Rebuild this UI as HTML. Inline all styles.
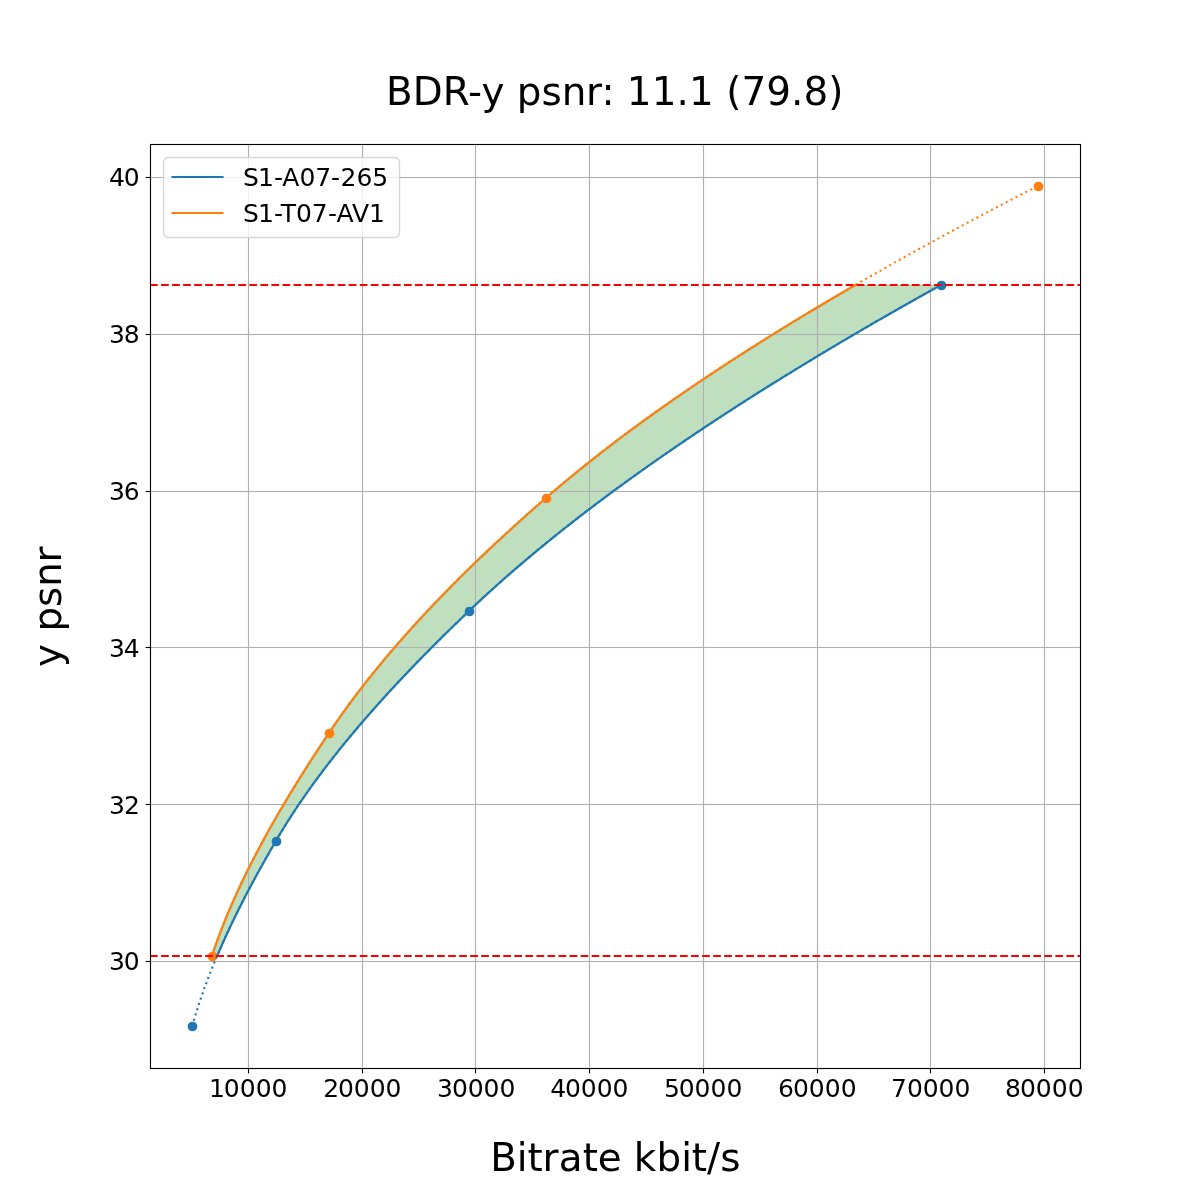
<!DOCTYPE html>
<html lang="en"><head><meta charset="utf-8"><title>BDR-y psnr</title>
<style>html,body{margin:0;padding:0;background:#fff}svg{display:block}text{font-family:"DejaVu Sans", "Liberation Sans", sans-serif;fill:#000;white-space:pre}</style></head><body>
<svg width="1200" height="1200" viewBox="0 0 1200 1200">
<rect width="1200" height="1200" fill="#fff"/>
<defs><clipPath id="ax"><rect x="150" y="144" width="930" height="924"/></clipPath></defs>
<g clip-path="url(#ax)">
<path transform="translate(0.5 0.5)" d="M217.27 955.50 L218.71 952.13 L220.17 948.76 L221.65 945.39 L223.15 942.02 L224.67 938.65 L226.21 935.28 L227.77 931.91 L229.34 928.54 L230.94 925.17 L232.55 921.80 L234.18 918.43 L235.83 915.06 L237.49 911.69 L239.17 908.32 L240.87 904.95 L242.58 901.58 L244.31 898.21 L246.05 894.84 L247.81 891.47 L249.59 888.10 L251.38 884.73 L253.18 881.36 L255.00 877.99 L256.83 874.62 L258.67 871.25 L260.53 867.88 L262.40 864.51 L264.28 861.14 L266.18 857.77 L268.09 854.40 L270.00 851.03 L271.94 847.66 L273.88 844.29 L275.83 840.93 L277.80 837.56 L279.80 834.19 L281.84 830.82 L283.90 827.45 L285.99 824.08 L288.12 820.71 L290.27 817.34 L292.45 813.97 L294.66 810.60 L296.90 807.23 L299.16 803.86 L301.46 800.49 L303.78 797.12 L306.13 793.75 L308.51 790.38 L310.92 787.01 L313.35 783.64 L315.81 780.27 L318.30 776.90 L320.81 773.53 L323.35 770.16 L325.91 766.79 L328.50 763.42 L331.12 760.05 L333.76 756.68 L336.43 753.31 L339.12 749.94 L341.83 746.57 L344.57 743.20 L347.34 739.83 L350.13 736.46 L352.94 733.09 L355.78 729.72 L358.64 726.35 L361.52 722.98 L364.42 719.61 L367.35 716.24 L370.30 712.87 L373.27 709.50 L376.27 706.13 L379.28 702.76 L382.32 699.39 L385.38 696.02 L388.46 692.65 L391.56 689.28 L394.68 685.91 L397.82 682.54 L400.98 679.17 L404.16 675.80 L407.36 672.43 L410.58 669.06 L413.82 665.69 L417.08 662.32 L420.36 658.95 L423.66 655.58 L426.97 652.21 L430.30 648.84 L433.65 645.47 L437.02 642.10 L440.41 638.73 L443.81 635.36 L447.23 631.99 L450.66 628.62 L454.12 625.25 L457.59 621.88 L461.07 618.52 L464.57 615.15 L468.09 611.78 L471.63 608.41 L475.19 605.04 L478.79 601.67 L482.42 598.30 L486.08 594.93 L489.77 591.56 L493.49 588.19 L497.24 584.82 L501.02 581.45 L504.83 578.08 L508.68 574.71 L512.55 571.34 L516.45 567.97 L520.38 564.60 L524.34 561.23 L528.33 557.86 L532.35 554.49 L536.40 551.12 L540.48 547.75 L544.58 544.38 L548.72 541.01 L552.89 537.64 L557.08 534.27 L561.30 530.90 L565.56 527.53 L569.84 524.16 L574.15 520.79 L578.48 517.42 L582.85 514.05 L587.24 510.68 L591.67 507.31 L596.12 503.94 L600.59 500.57 L605.10 497.20 L609.64 493.83 L614.20 490.46 L618.79 487.09 L623.40 483.72 L628.05 480.35 L632.72 476.98 L637.42 473.61 L642.14 470.24 L646.90 466.87 L651.67 463.50 L656.48 460.13 L661.31 456.76 L666.17 453.39 L671.06 450.02 L675.97 446.65 L680.91 443.28 L685.88 439.91 L690.87 436.54 L695.89 433.17 L700.93 429.80 L706.00 426.43 L711.09 423.06 L716.22 419.69 L721.36 416.32 L726.53 412.95 L731.73 409.58 L736.95 406.21 L742.20 402.84 L747.47 399.47 L752.77 396.11 L758.09 392.74 L763.44 389.37 L768.81 386.00 L774.21 382.63 L779.63 379.26 L785.08 375.89 L790.55 372.52 L796.04 369.15 L801.56 365.78 L807.10 362.41 L812.67 359.04 L818.26 355.67 L823.87 352.30 L829.51 348.93 L835.17 345.56 L840.86 342.19 L846.57 338.82 L852.30 335.45 L858.05 332.08 L863.83 328.71 L869.63 325.34 L875.45 321.97 L881.30 318.60 L887.17 315.23 L893.06 311.86 L898.98 308.49 L904.91 305.12 L910.87 301.75 L916.85 298.38 L922.86 295.01 L928.88 291.64 L934.93 288.27 L941.00 284.90 L855.47 284.90 L849.65 288.27 L843.86 291.64 L838.09 295.01 L832.35 298.38 L826.64 301.75 L820.96 305.12 L815.30 308.49 L809.68 311.86 L804.08 315.23 L798.51 318.60 L792.96 321.97 L787.45 325.34 L781.96 328.71 L776.50 332.08 L771.08 335.45 L765.68 338.82 L760.30 342.19 L754.96 345.56 L749.65 348.93 L744.37 352.30 L739.11 355.67 L733.89 359.04 L728.69 362.41 L723.53 365.78 L718.39 369.15 L713.29 372.52 L708.21 375.89 L703.17 379.26 L698.16 382.63 L693.17 386.00 L688.22 389.37 L683.30 392.74 L678.41 396.11 L673.55 399.47 L668.72 402.84 L663.92 406.21 L659.16 409.58 L654.43 412.95 L649.72 416.32 L645.05 419.69 L640.41 423.06 L635.81 426.43 L631.23 429.80 L626.69 433.17 L622.18 436.54 L617.71 439.91 L613.26 443.28 L608.85 446.65 L604.48 450.02 L600.13 453.39 L595.82 456.76 L591.54 460.13 L587.30 463.50 L583.09 466.87 L578.91 470.24 L574.77 473.61 L570.66 476.98 L566.58 480.35 L562.54 483.72 L558.53 487.09 L554.56 490.46 L550.62 493.83 L546.72 497.20 L542.85 500.57 L539.00 503.94 L535.16 507.31 L531.35 510.68 L527.56 514.05 L523.78 517.42 L520.03 520.79 L516.29 524.16 L512.58 527.53 L508.89 530.90 L505.21 534.27 L501.56 537.64 L497.93 541.01 L494.32 544.38 L490.73 547.75 L487.16 551.12 L483.61 554.49 L480.08 557.86 L476.58 561.23 L473.09 564.60 L469.63 567.97 L466.19 571.34 L462.77 574.71 L459.37 578.08 L456.00 581.45 L452.64 584.82 L449.31 588.19 L446.00 591.56 L442.72 594.93 L439.45 598.30 L436.21 601.67 L432.99 605.04 L429.80 608.41 L426.63 611.78 L423.48 615.15 L420.35 618.52 L417.25 621.88 L414.17 625.25 L411.12 628.62 L408.09 631.99 L405.08 635.36 L402.10 638.73 L399.14 642.10 L396.21 645.47 L393.30 648.84 L390.41 652.21 L387.55 655.58 L384.71 658.95 L381.90 662.32 L379.11 665.69 L376.35 669.06 L373.62 672.43 L370.91 675.80 L368.22 679.17 L365.56 682.54 L362.93 685.91 L360.32 689.28 L357.74 692.65 L355.18 696.02 L352.65 699.39 L350.14 702.76 L347.67 706.13 L345.22 709.50 L342.79 712.87 L340.39 716.24 L338.02 719.61 L335.68 722.98 L333.36 726.35 L331.07 729.72 L328.81 733.09 L326.56 736.46 L324.33 739.83 L322.10 743.20 L319.88 746.57 L317.68 749.94 L315.48 753.31 L313.30 756.68 L311.12 760.05 L308.96 763.42 L306.81 766.79 L304.67 770.16 L302.55 773.53 L300.43 776.90 L298.33 780.27 L296.24 783.64 L294.16 787.01 L292.10 790.38 L290.05 793.75 L288.01 797.12 L285.99 800.49 L283.98 803.86 L281.98 807.23 L280.00 810.60 L278.04 813.97 L276.09 817.34 L274.15 820.71 L272.24 824.08 L270.33 827.45 L268.44 830.82 L266.57 834.19 L264.72 837.56 L262.88 840.93 L261.06 844.29 L259.26 847.66 L257.47 851.03 L255.70 854.40 L253.95 857.77 L252.22 861.14 L250.50 864.51 L248.80 867.88 L247.13 871.25 L245.47 874.62 L243.83 877.99 L242.21 881.36 L240.61 884.73 L239.03 888.10 L237.47 891.47 L235.93 894.84 L234.42 898.21 L232.92 901.58 L231.44 904.95 L229.99 908.32 L228.55 911.69 L227.14 915.06 L225.75 918.43 L224.39 921.80 L223.04 925.17 L221.72 928.54 L220.42 931.91 L219.15 935.28 L217.90 938.65 L216.67 942.02 L215.47 945.39 L214.29 948.76 L213.13 952.13 L212.00 955.50Z" fill="#008000" fill-opacity="0.25" stroke="#008000" stroke-opacity="0.25" stroke-width="1.389" stroke-linejoin="miter"/>
<rect x="247.945" y="144" width="1.111" height="924" fill="#b0b0b0"/>
<rect x="361.945" y="144" width="1.111" height="924" fill="#b0b0b0"/>
<rect x="474.945" y="144" width="1.111" height="924" fill="#b0b0b0"/>
<rect x="588.944" y="144" width="1.111" height="924" fill="#b0b0b0"/>
<rect x="702.944" y="144" width="1.111" height="924" fill="#b0b0b0"/>
<rect x="816.944" y="144" width="1.111" height="924" fill="#b0b0b0"/>
<rect x="929.944" y="144" width="1.111" height="924" fill="#b0b0b0"/>
<rect x="1043.945" y="144" width="1.111" height="924" fill="#b0b0b0"/>
<rect x="150" y="960.944" width="930" height="1.111" fill="#b0b0b0"/>
<rect x="150" y="803.944" width="930" height="1.111" fill="#b0b0b0"/>
<rect x="150" y="646.944" width="930" height="1.111" fill="#b0b0b0"/>
<rect x="150" y="490.945" width="930" height="1.111" fill="#b0b0b0"/>
<rect x="150" y="333.945" width="930" height="1.111" fill="#b0b0b0"/>
<rect x="150" y="176.945" width="930" height="1.111" fill="#b0b0b0"/>
<path d="M212.00 955.50 L213.30 951.63 L214.63 947.77 L216.00 943.90 L217.39 940.03 L218.82 936.17 L220.28 932.30 L221.76 928.43 L223.28 924.57 L224.83 920.70 L226.41 916.83 L228.02 912.96 L229.66 909.10 L231.32 905.23 L233.01 901.36 L234.74 897.50 L236.48 893.63 L238.26 889.76 L240.06 885.90 L241.89 882.03 L243.75 878.16 L245.63 874.30 L247.54 870.43 L249.47 866.56 L251.42 862.70 L253.40 858.83 L255.41 854.96 L257.44 851.10 L259.49 847.23 L261.56 843.36 L263.66 839.49 L265.78 835.63 L267.92 831.76 L270.08 827.89 L272.26 824.03 L274.47 820.16 L276.69 816.29 L278.94 812.43 L281.20 808.56 L283.48 804.69 L285.78 800.83 L288.11 796.96 L290.44 793.09 L292.80 789.23 L295.18 785.36 L297.57 781.49 L299.98 777.63 L302.40 773.76 L304.84 769.89 L307.30 766.03 L309.77 762.16 L312.26 758.29 L314.76 754.42 L317.27 750.56 L319.80 746.69 L322.35 742.82 L324.90 738.96 L327.47 735.09 L330.06 731.22 L332.67 727.36 L335.33 723.49 L338.01 719.62 L340.74 715.76 L343.49 711.89 L346.29 708.02 L349.12 704.16 L351.98 700.29 L354.88 696.42 L357.81 692.56 L360.78 688.69 L363.78 684.82 L366.81 680.95 L369.88 677.09 L372.98 673.22 L376.12 669.35 L379.28 665.49 L382.49 661.62 L385.72 657.75 L388.99 653.89 L392.29 650.02 L395.62 646.15 L398.98 642.29 L402.38 638.42 L405.80 634.55 L409.26 630.69 L412.75 626.82 L416.27 622.95 L419.83 619.09 L423.41 615.22 L427.03 611.35 L430.67 607.48 L434.35 603.62 L438.05 599.75 L441.79 595.88 L445.55 592.02 L449.35 588.15 L453.17 584.28 L457.02 580.42 L460.91 576.55 L464.82 572.68 L468.76 568.82 L472.73 564.95 L476.73 561.08 L480.75 557.22 L484.81 553.35 L488.89 549.48 L493.00 545.62 L497.13 541.75 L501.30 537.88 L505.49 534.02 L509.71 530.15 L513.95 526.28 L518.22 522.41 L522.52 518.55 L526.85 514.68 L531.20 510.81 L535.57 506.95 L539.98 503.08 L544.41 499.21 L548.86 495.35 L553.37 491.48 L557.92 487.61 L562.51 483.75 L567.15 479.88 L571.83 476.01 L576.56 472.15 L581.34 468.28 L586.16 464.41 L591.02 460.55 L595.93 456.68 L600.88 452.81 L605.87 448.94 L610.91 445.08 L615.99 441.21 L621.12 437.34 L626.29 433.48 L631.50 429.61 L636.75 425.74 L642.04 421.88 L647.38 418.01 L652.76 414.14 L658.18 410.28 L663.65 406.41 L669.15 402.54 L674.70 398.68 L680.29 394.81 L685.91 390.94 L691.58 387.08 L697.29 383.21 L703.04 379.34 L708.83 375.47 L714.66 371.61 L720.53 367.74 L726.44 363.87 L732.39 360.01 L738.38 356.14 L744.40 352.27 L750.47 348.41 L756.57 344.54 L762.71 340.67 L768.90 336.81 L775.11 332.94 L781.37 329.07 L787.66 325.21 L794.00 321.34 L800.36 317.47 L806.77 313.61 L813.21 309.74 L819.69 305.87 L826.21 302.01 L832.76 298.14 L839.35 294.27 L845.97 290.40 L852.64 286.54 L859.33 282.67 L866.06 278.80 L872.83 274.94 L879.63 271.07 L886.47 267.20 L893.34 263.34 L900.24 259.47 L907.18 255.60 L914.15 251.74 L921.16 247.87 L928.20 244.00 L935.28 240.14 L942.39 236.27 L949.53 232.40 L956.70 228.54 L963.91 224.67 L971.15 220.80 L978.42 216.93 L985.72 213.07 L993.06 209.20 L1000.42 205.33 L1007.82 201.47 L1015.25 197.60 L1022.71 193.73 L1030.20 189.87 L1037.73 186.00" fill="none" stroke="#ff7f0e" stroke-width="2.083" stroke-dasharray="2.083 3.4375" stroke-linejoin="round"/>
<circle cx="212.5" cy="956.5" r="4.86" fill="#ff7f0e"/>
<circle cx="329.5" cy="733.5" r="4.86" fill="#ff7f0e"/>
<circle cx="546.5" cy="498.5" r="4.86" fill="#ff7f0e"/>
<circle cx="1038.5" cy="186.5" r="4.86" fill="#ff7f0e"/>
<path d="M192.27 1026.00 L193.33 1022.28 L194.41 1018.55 L195.53 1014.83 L196.67 1011.10 L197.85 1007.38 L199.06 1003.66 L200.30 999.93 L201.57 996.21 L202.87 992.48 L204.20 988.76 L205.55 985.03 L206.94 981.31 L208.35 977.59 L209.79 973.86 L211.25 970.14 L212.75 966.41 L214.26 962.69 L215.81 958.97 L217.38 955.24 L218.97 951.52 L220.59 947.79 L222.24 944.07 L223.91 940.35 L225.60 936.62 L227.31 932.90 L229.05 929.17 L230.81 925.45 L232.59 921.72 L234.39 918.00 L236.21 914.28 L238.06 910.55 L239.92 906.83 L241.80 903.10 L243.71 899.38 L245.63 895.66 L247.57 891.93 L249.53 888.21 L251.51 884.48 L253.50 880.76 L255.52 877.04 L257.54 873.31 L259.59 869.59 L261.65 865.86 L263.73 862.14 L265.82 858.41 L267.92 854.69 L270.04 850.97 L272.18 847.24 L274.33 843.52 L276.49 839.79 L278.68 836.07 L280.91 832.35 L283.18 828.62 L285.48 824.90 L287.82 821.17 L290.19 817.45 L292.61 813.73 L295.05 810.00 L297.53 806.28 L300.05 802.55 L302.60 798.83 L305.18 795.10 L307.80 791.38 L310.45 787.66 L313.14 783.93 L315.85 780.21 L318.60 776.48 L321.38 772.76 L324.20 769.04 L327.04 765.31 L329.92 761.59 L332.83 757.86 L335.77 754.14 L338.74 750.42 L341.74 746.69 L344.77 742.97 L347.82 739.24 L350.91 735.52 L354.03 731.79 L357.17 728.07 L360.35 724.35 L363.55 720.62 L366.78 716.90 L370.03 713.17 L373.32 709.45 L376.63 705.73 L379.96 702.00 L383.33 698.28 L386.72 694.55 L390.13 690.83 L393.57 687.11 L397.04 683.38 L400.53 679.66 L404.04 675.93 L407.58 672.21 L411.14 668.48 L414.72 664.76 L418.33 661.04 L421.96 657.31 L425.62 653.59 L429.29 649.86 L432.99 646.14 L436.71 642.42 L440.45 638.69 L444.21 634.97 L447.99 631.24 L451.80 627.52 L455.62 623.79 L459.46 620.07 L463.32 616.35 L467.20 612.62 L471.11 608.90 L475.05 605.17 L479.02 601.45 L483.04 597.73 L487.09 594.00 L491.18 590.28 L495.30 586.55 L499.47 582.83 L503.67 579.11 L507.90 575.38 L512.18 571.66 L516.49 567.93 L520.83 564.21 L525.22 560.48 L529.63 556.76 L534.09 553.04 L538.58 549.31 L543.11 545.59 L547.67 541.86 L552.26 538.14 L556.90 534.42 L561.56 530.69 L566.27 526.97 L571.00 523.24 L575.78 519.52 L580.58 515.80 L585.43 512.07 L590.30 508.35 L595.21 504.62 L600.16 500.90 L605.14 497.17 L610.15 493.45 L615.19 489.73 L620.27 486.00 L625.39 482.28 L630.53 478.55 L635.71 474.83 L640.93 471.11 L646.17 467.38 L651.45 463.66 L656.77 459.93 L662.11 456.21 L667.49 452.49 L672.90 448.76 L678.34 445.04 L683.81 441.31 L689.32 437.59 L694.85 433.86 L700.42 430.14 L706.03 426.42 L711.66 422.69 L717.32 418.97 L723.02 415.24 L728.74 411.52 L734.50 407.80 L740.29 404.07 L746.11 400.35 L751.95 396.62 L757.83 392.90 L763.74 389.18 L769.68 385.45 L775.65 381.73 L781.65 378.00 L787.68 374.28 L793.74 370.55 L799.83 366.83 L805.95 363.11 L812.10 359.38 L818.27 355.66 L824.48 351.93 L830.71 348.21 L836.98 344.49 L843.27 340.76 L849.59 337.04 L855.94 333.31 L862.32 329.59 L868.72 325.87 L875.15 322.14 L881.62 318.42 L888.10 314.69 L894.62 310.97 L901.16 307.24 L907.74 303.52 L914.33 299.80 L920.96 296.07 L927.61 292.35 L934.29 288.62 L941.00 284.90" fill="none" stroke="#1f77b4" stroke-width="2.083" stroke-dasharray="2.083 3.4375" stroke-linejoin="round"/>
<circle cx="192.5" cy="1026.5" r="4.86" fill="#1f77b4"/>
<circle cx="276.5" cy="841.5" r="4.86" fill="#1f77b4"/>
<circle cx="469.5" cy="611.5" r="4.86" fill="#1f77b4"/>
<circle cx="941.5" cy="285.5" r="4.86" fill="#1f77b4"/>
<path d="M217.27 955.50 L218.71 952.13 L220.17 948.76 L221.65 945.39 L223.15 942.02 L224.67 938.65 L226.21 935.28 L227.77 931.91 L229.34 928.54 L230.94 925.17 L232.55 921.80 L234.18 918.43 L235.83 915.06 L237.49 911.69 L239.17 908.32 L240.87 904.95 L242.58 901.58 L244.31 898.21 L246.05 894.84 L247.81 891.47 L249.59 888.10 L251.38 884.73 L253.18 881.36 L255.00 877.99 L256.83 874.62 L258.67 871.25 L260.53 867.88 L262.40 864.51 L264.28 861.14 L266.18 857.77 L268.09 854.40 L270.00 851.03 L271.94 847.66 L273.88 844.29 L275.83 840.93 L277.80 837.56 L279.80 834.19 L281.84 830.82 L283.90 827.45 L285.99 824.08 L288.12 820.71 L290.27 817.34 L292.45 813.97 L294.66 810.60 L296.90 807.23 L299.16 803.86 L301.46 800.49 L303.78 797.12 L306.13 793.75 L308.51 790.38 L310.92 787.01 L313.35 783.64 L315.81 780.27 L318.30 776.90 L320.81 773.53 L323.35 770.16 L325.91 766.79 L328.50 763.42 L331.12 760.05 L333.76 756.68 L336.43 753.31 L339.12 749.94 L341.83 746.57 L344.57 743.20 L347.34 739.83 L350.13 736.46 L352.94 733.09 L355.78 729.72 L358.64 726.35 L361.52 722.98 L364.42 719.61 L367.35 716.24 L370.30 712.87 L373.27 709.50 L376.27 706.13 L379.28 702.76 L382.32 699.39 L385.38 696.02 L388.46 692.65 L391.56 689.28 L394.68 685.91 L397.82 682.54 L400.98 679.17 L404.16 675.80 L407.36 672.43 L410.58 669.06 L413.82 665.69 L417.08 662.32 L420.36 658.95 L423.66 655.58 L426.97 652.21 L430.30 648.84 L433.65 645.47 L437.02 642.10 L440.41 638.73 L443.81 635.36 L447.23 631.99 L450.66 628.62 L454.12 625.25 L457.59 621.88 L461.07 618.52 L464.57 615.15 L468.09 611.78 L471.63 608.41 L475.19 605.04 L478.79 601.67 L482.42 598.30 L486.08 594.93 L489.77 591.56 L493.49 588.19 L497.24 584.82 L501.02 581.45 L504.83 578.08 L508.68 574.71 L512.55 571.34 L516.45 567.97 L520.38 564.60 L524.34 561.23 L528.33 557.86 L532.35 554.49 L536.40 551.12 L540.48 547.75 L544.58 544.38 L548.72 541.01 L552.89 537.64 L557.08 534.27 L561.30 530.90 L565.56 527.53 L569.84 524.16 L574.15 520.79 L578.48 517.42 L582.85 514.05 L587.24 510.68 L591.67 507.31 L596.12 503.94 L600.59 500.57 L605.10 497.20 L609.64 493.83 L614.20 490.46 L618.79 487.09 L623.40 483.72 L628.05 480.35 L632.72 476.98 L637.42 473.61 L642.14 470.24 L646.90 466.87 L651.67 463.50 L656.48 460.13 L661.31 456.76 L666.17 453.39 L671.06 450.02 L675.97 446.65 L680.91 443.28 L685.88 439.91 L690.87 436.54 L695.89 433.17 L700.93 429.80 L706.00 426.43 L711.09 423.06 L716.22 419.69 L721.36 416.32 L726.53 412.95 L731.73 409.58 L736.95 406.21 L742.20 402.84 L747.47 399.47 L752.77 396.11 L758.09 392.74 L763.44 389.37 L768.81 386.00 L774.21 382.63 L779.63 379.26 L785.08 375.89 L790.55 372.52 L796.04 369.15 L801.56 365.78 L807.10 362.41 L812.67 359.04 L818.26 355.67 L823.87 352.30 L829.51 348.93 L835.17 345.56 L840.86 342.19 L846.57 338.82 L852.30 335.45 L858.05 332.08 L863.83 328.71 L869.63 325.34 L875.45 321.97 L881.30 318.60 L887.17 315.23 L893.06 311.86 L898.98 308.49 L904.91 305.12 L910.87 301.75 L916.85 298.38 L922.86 295.01 L928.88 291.64 L934.93 288.27 L941.00 284.90" fill="none" stroke="#1f77b4" stroke-width="2.083" stroke-linejoin="round" stroke-linecap="square"/>
<path d="M212.00 955.50 L213.13 952.13 L214.29 948.76 L215.47 945.39 L216.67 942.02 L217.90 938.65 L219.15 935.28 L220.42 931.91 L221.72 928.54 L223.04 925.17 L224.39 921.80 L225.75 918.43 L227.14 915.06 L228.55 911.69 L229.99 908.32 L231.44 904.95 L232.92 901.58 L234.42 898.21 L235.93 894.84 L237.47 891.47 L239.03 888.10 L240.61 884.73 L242.21 881.36 L243.83 877.99 L245.47 874.62 L247.13 871.25 L248.80 867.88 L250.50 864.51 L252.22 861.14 L253.95 857.77 L255.70 854.40 L257.47 851.03 L259.26 847.66 L261.06 844.29 L262.88 840.93 L264.72 837.56 L266.57 834.19 L268.44 830.82 L270.33 827.45 L272.24 824.08 L274.15 820.71 L276.09 817.34 L278.04 813.97 L280.00 810.60 L281.98 807.23 L283.98 803.86 L285.99 800.49 L288.01 797.12 L290.05 793.75 L292.10 790.38 L294.16 787.01 L296.24 783.64 L298.33 780.27 L300.43 776.90 L302.55 773.53 L304.67 770.16 L306.81 766.79 L308.96 763.42 L311.12 760.05 L313.30 756.68 L315.48 753.31 L317.68 749.94 L319.88 746.57 L322.10 743.20 L324.33 739.83 L326.56 736.46 L328.81 733.09 L331.07 729.72 L333.36 726.35 L335.68 722.98 L338.02 719.61 L340.39 716.24 L342.79 712.87 L345.22 709.50 L347.67 706.13 L350.14 702.76 L352.65 699.39 L355.18 696.02 L357.74 692.65 L360.32 689.28 L362.93 685.91 L365.56 682.54 L368.22 679.17 L370.91 675.80 L373.62 672.43 L376.35 669.06 L379.11 665.69 L381.90 662.32 L384.71 658.95 L387.55 655.58 L390.41 652.21 L393.30 648.84 L396.21 645.47 L399.14 642.10 L402.10 638.73 L405.08 635.36 L408.09 631.99 L411.12 628.62 L414.17 625.25 L417.25 621.88 L420.35 618.52 L423.48 615.15 L426.63 611.78 L429.80 608.41 L432.99 605.04 L436.21 601.67 L439.45 598.30 L442.72 594.93 L446.00 591.56 L449.31 588.19 L452.64 584.82 L456.00 581.45 L459.37 578.08 L462.77 574.71 L466.19 571.34 L469.63 567.97 L473.09 564.60 L476.58 561.23 L480.08 557.86 L483.61 554.49 L487.16 551.12 L490.73 547.75 L494.32 544.38 L497.93 541.01 L501.56 537.64 L505.21 534.27 L508.89 530.90 L512.58 527.53 L516.29 524.16 L520.03 520.79 L523.78 517.42 L527.56 514.05 L531.35 510.68 L535.16 507.31 L539.00 503.94 L542.85 500.57 L546.72 497.20 L550.62 493.83 L554.56 490.46 L558.53 487.09 L562.54 483.72 L566.58 480.35 L570.66 476.98 L574.77 473.61 L578.91 470.24 L583.09 466.87 L587.30 463.50 L591.54 460.13 L595.82 456.76 L600.13 453.39 L604.48 450.02 L608.85 446.65 L613.26 443.28 L617.71 439.91 L622.18 436.54 L626.69 433.17 L631.23 429.80 L635.81 426.43 L640.41 423.06 L645.05 419.69 L649.72 416.32 L654.43 412.95 L659.16 409.58 L663.92 406.21 L668.72 402.84 L673.55 399.47 L678.41 396.11 L683.30 392.74 L688.22 389.37 L693.17 386.00 L698.16 382.63 L703.17 379.26 L708.21 375.89 L713.29 372.52 L718.39 369.15 L723.53 365.78 L728.69 362.41 L733.89 359.04 L739.11 355.67 L744.37 352.30 L749.65 348.93 L754.96 345.56 L760.30 342.19 L765.68 338.82 L771.08 335.45 L776.50 332.08 L781.96 328.71 L787.45 325.34 L792.96 321.97 L798.51 318.60 L804.08 315.23 L809.68 311.86 L815.30 308.49 L820.96 305.12 L826.64 301.75 L832.35 298.38 L838.09 295.01 L843.86 291.64 L849.65 288.27 L855.47 284.90" fill="none" stroke="#ff7f0e" stroke-width="2.083" stroke-linejoin="round" stroke-linecap="square"/>
<line x1="150" x2="1080" y1="956" y2="956.001" stroke="#ff0000" stroke-width="2.083" stroke-dasharray="7.7083 3.3333"/>
<line x1="150" x2="1080" y1="285" y2="285.001" stroke="#ff0000" stroke-width="2.083" stroke-dasharray="7.7083 3.3333"/>
</g>
<line x1="248.5" x2="248.5" y1="1068.5" y2="1073.36" stroke="#000" stroke-width="1.11"/>
<line x1="362.5" x2="362.5" y1="1068.5" y2="1073.36" stroke="#000" stroke-width="1.11"/>
<line x1="475.5" x2="475.5" y1="1068.5" y2="1073.36" stroke="#000" stroke-width="1.11"/>
<line x1="589.5" x2="589.5" y1="1068.5" y2="1073.36" stroke="#000" stroke-width="1.11"/>
<line x1="703.5" x2="703.5" y1="1068.5" y2="1073.36" stroke="#000" stroke-width="1.11"/>
<line x1="817.5" x2="817.5" y1="1068.5" y2="1073.36" stroke="#000" stroke-width="1.11"/>
<line x1="930.5" x2="930.5" y1="1068.5" y2="1073.36" stroke="#000" stroke-width="1.11"/>
<line x1="1044.5" x2="1044.5" y1="1068.5" y2="1073.36" stroke="#000" stroke-width="1.11"/>
<line x1="145.64" x2="150.5" y1="961.5" y2="961.5" stroke="#000" stroke-width="1.11"/>
<line x1="145.64" x2="150.5" y1="804.5" y2="804.5" stroke="#000" stroke-width="1.11"/>
<line x1="145.64" x2="150.5" y1="647.5" y2="647.5" stroke="#000" stroke-width="1.11"/>
<line x1="145.64" x2="150.5" y1="491.5" y2="491.5" stroke="#000" stroke-width="1.11"/>
<line x1="145.64" x2="150.5" y1="334.5" y2="334.5" stroke="#000" stroke-width="1.11"/>
<line x1="145.64" x2="150.5" y1="177.5" y2="177.5" stroke="#000" stroke-width="1.11"/>
<rect x="150.5" y="144.5" width="930" height="924" fill="none" stroke="#000" stroke-width="1.11"/>
<text id="xt10000" x="209.11 223.85 239.66 255.70 271.48" y="1097" font-size="25">10000</text>
<text id="xt20000" x="323.24 337.95 353.71 369.78 385.57" y="1097" font-size="25">20000</text>
<text id="xt30000" x="437.02 451.91 467.72 483.50 499.54" y="1097" font-size="25">30000</text>
<text id="xt40000" x="550.16 565.00 580.76 596.82 612.60" y="1097" font-size="25">40000</text>
<text id="xt50000" x="663.92 678.84 694.62 710.41 726.45" y="1097" font-size="25">50000</text>
<text id="xt60000" x="777.99 793.08 808.84 824.64 840.68" y="1097" font-size="25">60000</text>
<text id="xt70000" x="890.96 906.96 922.76 938.55 954.57" y="1097" font-size="25">70000</text>
<text id="xt80000" x="1004.93 1020.07 1035.83 1051.63 1067.67" y="1097" font-size="25">80000</text>
<text id="yt30" x="109.07 123.72" y="970.4" font-size="25">30</text>
<text id="yt32" x="109.07 123.89" y="814.4" font-size="25">32</text>
<text id="yt34" x="109.07 123.78" y="657.4" font-size="25">34</text>
<text id="yt36" x="109.07 123.80" y="500.4" font-size="25">36</text>
<text id="yt38" x="109.07 123.75" y="343.4" font-size="25">38</text>
<text id="yt40" x="109.00 123.87" y="186.4" font-size="25">40</text>
<text id="title" x="385.99 412.79 442.63 467.93 481.44 504.33 516.69 541.51 561.68 585.94 601.44 614.53 626.83 651.70 676.52 689.03 713.99 726.34 741.53 766.27 791.10 803.57 828.37" y="105.1" font-size="38.89">BDR-y psnr: 11.1 (79.8)</text>
<text id="xlabel" x="490.19 516.72 527.59 542.60 558.65 582.64 597.87 621.45 633.81 656.49 681.15 691.87 707.12 720.16" y="1170.6" font-size="38.89">Bitrate kbit/s</text>
<text id="ylabel" transform="translate(60.5 606.8) rotate(-90)" x="-60.11 -36.99 -24.63 -0.16 20.12 44.40" y="0" font-size="38.89">y psnr</text>
<rect x="163.5" y="157.5" width="236" height="80" rx="5" ry="5" fill="#fff" fill-opacity="0.8" stroke="#cccccc" stroke-opacity="0.8" stroke-width="1.389"/>
<line x1="171.46" x2="223.54" y1="177" y2="177" stroke="#1f77b4" stroke-width="2.083"/>
<line x1="171.46" x2="223.54" y1="213" y2="213" stroke="#ff7f0e" stroke-width="2.083"/>
<text id="leg1" x="243.00 258.01 273.89 282.37 299.61 315.35 331.08 340.46 356.51 372.33" y="186" font-size="25">S1-A07-265</text>
<text id="leg2" x="243.00 258.01 274.02 280.76 295.99 311.81 327.90 336.46 351.96 368.92" y="221.5" font-size="25">S1-T07-AV1</text>
</svg></body></html>
